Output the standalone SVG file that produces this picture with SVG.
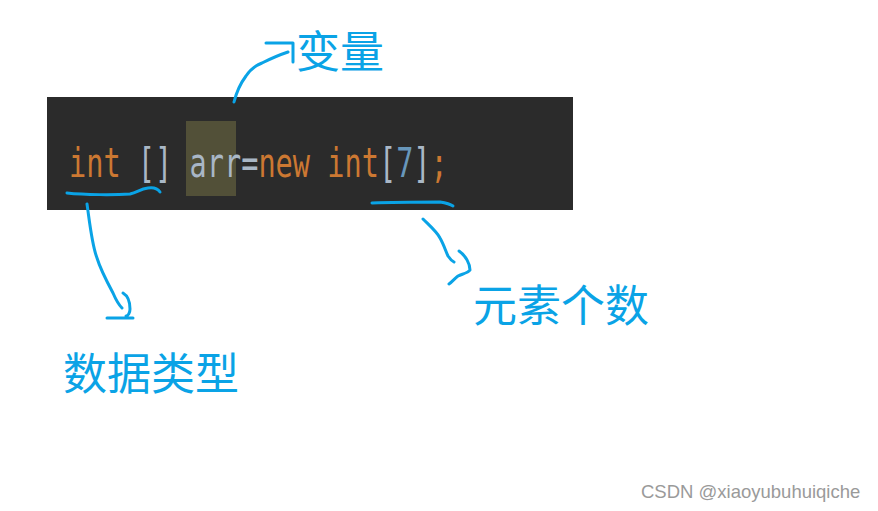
<svg xmlns="http://www.w3.org/2000/svg" width="878" height="511" viewBox="0 0 878 511">
<style>
.lbl{font-family:"Noto Sans CJK SC","Noto Sans",sans-serif;font-size:44px;fill:#0aa3e6}
.code{font-family:"DejaVu Sans Mono","Liberation Mono",monospace;font-size:40px}
.kw{fill:#cc7832}
.pl{fill:#a9b7c6}
.num{fill:#6897bb}
.ink{fill:none;stroke:#0aa3e6;stroke-width:3;stroke-linecap:round;stroke-linejoin:round}
.wm{font-family:"Liberation Sans",Arial,sans-serif;font-size:18.5px;fill:#9a9a9a}
</style>
<rect width="878" height="511" fill="#ffffff"/>
<g id="code">
<rect x="47" y="97" width="526" height="113" fill="#2b2b2b"/>
<rect x="186" y="121" width="50" height="75" fill="#525038"/>
<text class="code" transform="translate(69,177) scale(0.715,1)" xml:space="preserve"><tspan class="kw">int</tspan><tspan class="pl"> [] arr=</tspan><tspan class="kw">new int</tspan><tspan class="pl">[</tspan><tspan class="num">7</tspan><tspan class="pl">]</tspan><tspan class="kw">;</tspan></text>
</g>
<g id="label-var"><text class="lbl" x="296" y="68">变量</text></g>
<g id="label-type"><text class="lbl" x="63" y="390">数据类型</text></g>
<g id="label-count"><text class="lbl" x="473" y="322">元素个数</text></g>
<g id="connectors">
<path class="ink" d="M67,193 C85,195 115,195 130,194 C138,192 140,189 148,188 C155,187 158,189 160,192"/>
<path class="ink" d="M87,204 C90,225 92,245 97,258 C100,268 106,280 113,293 C116,300 119,305 122,308"/>
<path class="ink" d="M123,293 C128,296 130,303 130,309 C130,313 128,316 126,316 M107,318 L133,318"/>
<path class="ink" d="M234,102 C236,94 240,84 246,76 C250,70 254,66 262,63 C268,60 276,56 288,52 M266,43 L293,43 L293,62"/>
<path class="ink" d="M372,203 C395,202 420,202 440,202 C446,203 450,204 453,206"/>
<path class="ink" d="M423,219 C430,226 437,232 440,238 C444,245 446,252 448,256 C450,259 452,261 454,262"/>
<path class="ink" d="M459,251 C466,256 470,264 470,270 C468,273 462,274 458,276 C454,279 452,282 449,284"/>
</g>
<text class="wm" x="641" y="498">CSDN @xiaoyubuhuiqiche</text>
</svg>
